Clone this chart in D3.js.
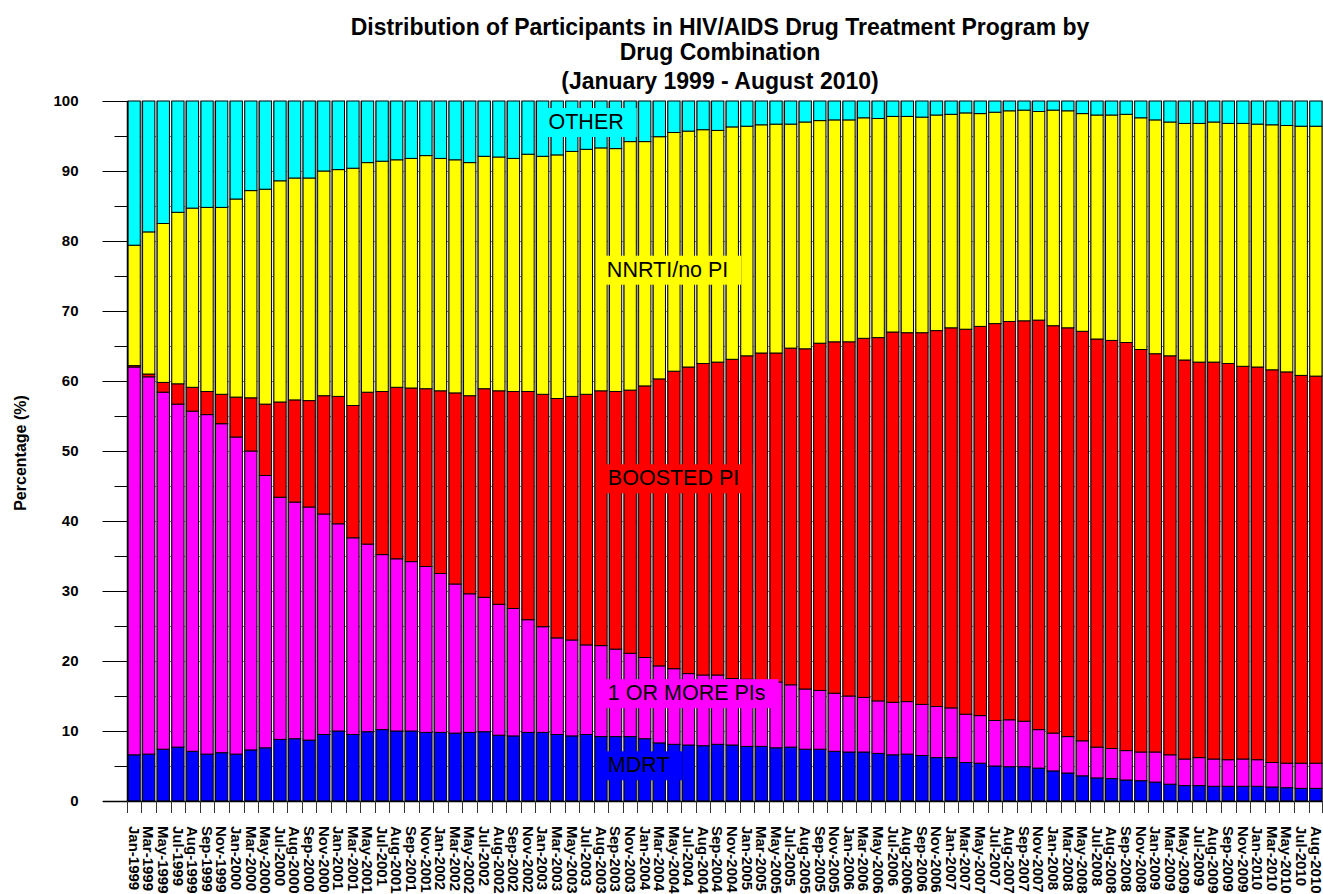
<!DOCTYPE html>
<html>
<head>
<meta charset="utf-8">
<script src="https://d3js.org/d3.v7.min.js"></script>
<style>
body { margin: 0; background: #fff; }
text { font-family: Arial, "Liberation Sans", sans-serif; }
</style>
</head>
<body>
<svg id="chart" width="1323" height="894"></svg>
<script>
// months shown on the x axis
var months = [
  "Jan-1999","Mar-1999","May-1999","Jul-1999","Aug-1999","Sep-1999","Nov-1999",
  "Jan-2000","Mar-2000","May-2000","Jul-2000","Aug-2000","Sep-2000","Nov-2000",
  "Jan-2001","Mar-2001","May-2001","Jul-2001","Aug-2001","Sep-2001","Nov-2001",
  "Jan-2002","Mar-2002","May-2002","Jul-2002","Aug-2002","Sep-2002","Nov-2002",
  "Jan-2003","Mar-2003","May-2003","Jul-2003","Aug-2003","Sep-2003","Nov-2003",
  "Jan-2004","Mar-2004","May-2004","Jul-2004","Aug-2004","Sep-2004","Nov-2004",
  "Jan-2005","Mar-2005","May-2005","Jul-2005","Aug-2005","Sep-2005","Nov-2005",
  "Jan-2006","Mar-2006","May-2006","Jul-2006","Aug-2006","Sep-2006","Nov-2006",
  "Jan-2007","Mar-2007","May-2007","Jul-2007","Aug-2007","Sep-2007","Nov-2007",
  "Jan-2008","Mar-2008","May-2008","Jul-2008","Aug-2008","Sep-2008","Nov-2008",
  "Jan-2009","Mar-2009","May-2009","Jul-2009","Aug-2009","Sep-2009","Nov-2009",
  "Jan-2010","Mar-2010","May-2010","Jul-2010","Aug-2010"
];

// percentages, bottom to top
var mdrt = [6.6,6.7,7.4,7.7,7.1,6.7,6.9, 6.7,7.3,7.6,8.8,8.9,8.7,9.5, 10.0,9.5,9.9,10.2,10.0,10.0,9.8,
  9.8,9.7,9.8,9.9,9.4,9.3,9.8, 9.8,9.5,9.3,9.5,9.2,9.2,9.2, 8.9,8.3,8.1,8.0,7.9,8.1,8.0,
  7.8,7.8,7.6,7.7,7.4,7.4,7.1, 7.0,7.0,6.8,6.6,6.7,6.5,6.2, 6.2,5.5,5.4,5.0,4.9,4.9,4.7,
  4.3,4.0,3.6,3.3,3.2,3.0,2.9, 2.7,2.4,2.2,2.2,2.1,2.1,2.1, 2.1,2.0,1.9,1.8,1.8];
var onePI = [55.4,53.9,51.0,49.0,48.6,48.5,47.0, 45.3,42.7,38.9,34.6,33.8,33.3,31.5, 29.6,28.1,26.8,25.0,24.6,24.2,23.7,
  22.7,21.3,19.8,19.2,18.7,18.2,16.1, 15.1,13.8,13.7,12.8,13.0,12.5,11.9, 11.6,11.0,10.8,10.2,10.1,9.9,9.5,
  9.6,9.2,9.4,8.9,8.6,8.4,8.3, 8.0,7.8,7.5,7.5,7.5,7.3,7.3, 7.1,6.9,6.8,6.5,6.7,6.5,5.5,
  5.4,5.2,5.0,4.4,4.3,4.2,4.1, 4.3,4.2,3.8,4.0,3.9,3.8,3.9, 3.8,3.5,3.5,3.6,3.6];
var boosted = [0.2,0.4,1.4,2.9,3.4,3.3,4.2, 5.7,7.6,10.2,13.6,14.6,15.2,16.9, 18.2,18.9,21.7,23.3,24.5,24.8,25.4,
  26.1,27.3,28.3,29.8,30.5,31.0,32.6, 33.2,34.2,34.8,35.8,36.4,36.8,37.6, 38.8,41.0,42.5,43.8,44.5,44.7,45.6,
  46.2,47.0,47.0,48.1,48.6,49.6,50.2, 50.6,51.3,51.9,52.9,52.7,53.1,53.7, 54.3,55.0,55.6,56.7,56.9,57.2,58.5,
  58.2,58.4,58.5,58.3,58.3,58.3,57.5, 56.9,57.0,57.0,56.5,56.7,56.6,56.1, 56.1,56.1,55.9,55.4,55.3];
var nnrti = [17.2,20.3,22.7,24.5,25.6,26.3,26.7, 28.3,29.6,30.7,31.6,31.7,31.8,32.1, 32.4,33.9,32.8,32.9,32.5,32.8,33.3,
  33.2,33.3,33.3,33.2,33.4,33.3,33.9, 34.0,34.8,35.0,35.0,34.7,34.7,35.5, 34.9,34.6,34.1,33.7,33.4,33.1,33.2,
  32.8,32.6,32.7,32.0,32.4,31.8,31.7, 31.7,31.5,31.3,30.8,30.9,30.8,30.8, 30.5,30.9,30.4,30.2,30.1,30.1,29.8,
  30.8,31.0,31.1,32.0,32.2,32.6,33.1, 33.4,33.4,33.8,34.1,34.3,34.3,34.7, 34.7,35.0,35.2,35.6,35.7];
var other = [20.6,18.7,17.5,15.9,15.3,15.2,15.2, 14.0,12.8,12.6,11.4,11.0,11.0,10.0, 9.8,9.6,8.8,8.6,8.4,8.2,7.8,
  8.2,8.4,8.8,7.9,8.0,8.2,7.6, 7.9,7.7,7.2,6.9,6.7,6.8,5.8, 5.8,5.1,4.5,4.3,4.1,4.2,3.7,
  3.6,3.4,3.3,3.3,3.0,2.8,2.7, 2.7,2.4,2.5,2.2,2.2,2.3,2.0, 1.9,1.7,1.8,1.6,1.4,1.3,1.5,
  1.3,1.4,1.8,2.0,2.0,1.9,2.4, 2.7,3.0,3.2,3.2,3.0,3.2,3.2, 3.3,3.4,3.5,3.6,3.6];

var seriesNames = ["MDRT", "1 OR MORE PIs", "BOOSTED PI", "NNRTI/no PI", "OTHER"];
var seriesColors = ["#0000ff", "#ff00ff", "#ff0000", "#ffff00", "#00ffff"];

var plotLeft = 128, plotRight = 1322, plotTop = 101, plotBottom = 801;

var rows = months.map(function(m, i) {
  return { month: m, "MDRT": mdrt[i], "1 OR MORE PIs": onePI[i], "BOOSTED PI": boosted[i],
           "NNRTI/no PI": nnrti[i], "OTHER": other[i] };
});

var x = d3.scaleBand()
    .domain(months)
    .range([plotLeft, plotRight])
    .paddingInner(0.16)
    .paddingOuter(0);

var y = d3.scaleLinear()
    .domain([0, 100])
    .range([plotBottom, plotTop]);

var color = d3.scaleOrdinal().domain(seriesNames).range(seriesColors);

var svg = d3.select("#chart");

// title
svg.append("g").selectAll("text")
  .data(["Distribution of Participants in HIV/AIDS Drug Treatment Program by",
         "Drug Combination",
         "(January 1999 - August 2010)"])
  .enter().append("text")
    .attr("x", 720)
    .attr("y", function(d, i) { return [35, 60, 89][i]; })
    .attr("text-anchor", "middle")
    .style("font-size", "23px")
    .style("font-weight", "bold")
    .text(function(d) { return d; });

// gridlines
var step = x.step();
var bounds = months.map(function(m) { return x(m) - step * x.paddingInner() / 2; });
bounds.push(plotRight);

svg.append("g").selectAll("line")
  .data(d3.range(5, 100, 5))
  .enter().append("line")
    .attr("x1", plotLeft).attr("x2", plotRight)
    .attr("y1", function(d) { return y(d) + 0.5; })
    .attr("y2", function(d) { return y(d) + 0.5; })
    .attr("stroke", "#777").attr("stroke-width", 1);

svg.append("g").selectAll("line")
  .data(bounds)
  .enter().append("line")
    .attr("x1", function(d) { return Math.round(d) + 0.5; })
    .attr("x2", function(d) { return Math.round(d) + 0.5; })
    .attr("y1", plotTop).attr("y2", plotBottom)
    .attr("stroke", "#999").attr("stroke-width", 1);

// stacked bars
var stack = d3.stack().keys(seriesNames)(rows);

svg.append("g").selectAll("g")
  .data(stack)
  .enter().append("g")
    .attr("fill", function(d) { return color(d.key); })
  .selectAll("rect")
  .data(function(d) { return d; })
  .enter().append("rect")
    .attr("x", function(d) { return x(d.data.month); })
    .attr("y", function(d) { return y(d[1]); })
    .attr("width", x.bandwidth())
    .attr("height", function(d) { return y(d[0]) - y(d[1]); })
    .attr("stroke", "#000")
    .attr("stroke-width", 1);

// y axis, major and minor ticks
var yAxis = svg.append("g")
    .attr("transform", "translate(" + (plotLeft - 0.5) + ",0)")
    .call(d3.axisLeft(y).tickValues(d3.range(0, 101, 10)).tickSize(25).tickPadding(24));
yAxis.select(".domain").remove();
yAxis.selectAll("text")
    .style("font-family", "Arial, 'Liberation Sans', sans-serif")
    .style("font-size", "15px").style("font-weight", "bold");

var yMinor = svg.append("g")
    .attr("transform", "translate(" + (plotLeft - 0.5) + ",0)")
    .call(d3.axisLeft(y).tickValues(d3.range(5, 100, 10)).tickSize(13).tickFormat(""));
yMinor.select(".domain").remove();

svg.append("line")
    .attr("x1", plotLeft - 0.5).attr("x2", plotLeft - 0.5)
    .attr("y1", plotTop).attr("y2", plotBottom)
    .attr("stroke", "#000").attr("stroke-width", 1.5);

svg.append("text")
    .attr("transform", "translate(26," + ((plotTop + plotBottom) / 2 + 2) + ") rotate(-90)")
    .attr("text-anchor", "middle")
    .style("font-size", "16px")
    .style("font-weight", "bold")
    .text("Percentage (%)");

// x axis
svg.append("line")
    .attr("x1", 103).attr("x2", plotRight)
    .attr("y1", plotBottom + 0.5).attr("y2", plotBottom + 0.5)
    .attr("stroke", "#000").attr("stroke-width", 1.5);

svg.append("g").selectAll("line")
  .data(bounds)
  .enter().append("line")
    .attr("x1", function(d) { return Math.round(d) + 0.5; })
    .attr("x2", function(d) { return Math.round(d) + 0.5; })
    .attr("y1", plotBottom).attr("y2", plotBottom + 12)
    .attr("stroke", "#333").attr("stroke-width", 1);

var xAxis = svg.append("g")
    .attr("transform", "translate(0," + plotBottom + ")")
    .call(d3.axisBottom(x).tickSize(0));
xAxis.select(".domain").remove();
xAxis.selectAll("text")
    .attr("transform", "rotate(90)")
    .attr("x", 25)
    .attr("y", 0)
    .attr("dy", "0.35em")
    .attr("text-anchor", "start")
    .style("font-family", "Arial, 'Liberation Sans', sans-serif")
    .style("font-size", "15px")
    .style("font-weight", "bold");

// series labels inside the chart
var labels = [
  { name: "OTHER", month: "Jan-2003", value: 96.0, dx: 12 },
  { name: "NNRTI/no PI", month: "Aug-2003", value: 74.9, dx: 12 },
  { name: "BOOSTED PI", month: "Aug-2003", value: 45.1, dx: 13 },
  { name: "1 OR MORE PIs", month: "Aug-2003", value: 14.4, dx: 13 },
  { name: "MDRT", month: "Aug-2003", value: 4.1, dx: 13 }
];

var lab = svg.append("g").selectAll("g")
  .data(labels)
  .enter().append("g");

lab.append("rect")
    .attr("fill", function(d) { return color(d.name); });

lab.append("text")
    .attr("x", function(d) { return x(d.month) + d.dx; })
    .attr("y", function(d) { return y(d.value); })
    .style("font-size", "21.5px")
    .text(function(d) { return d.name; });

lab.each(function() {
  var g = d3.select(this);
  var b = g.select("text").node().getBBox();
  g.select("rect")
    .attr("x", b.x - 7).attr("y", b.y - 2)
    .attr("width", b.width + 20).attr("height", b.height + 5);
});
</script>
</body>
</html>
